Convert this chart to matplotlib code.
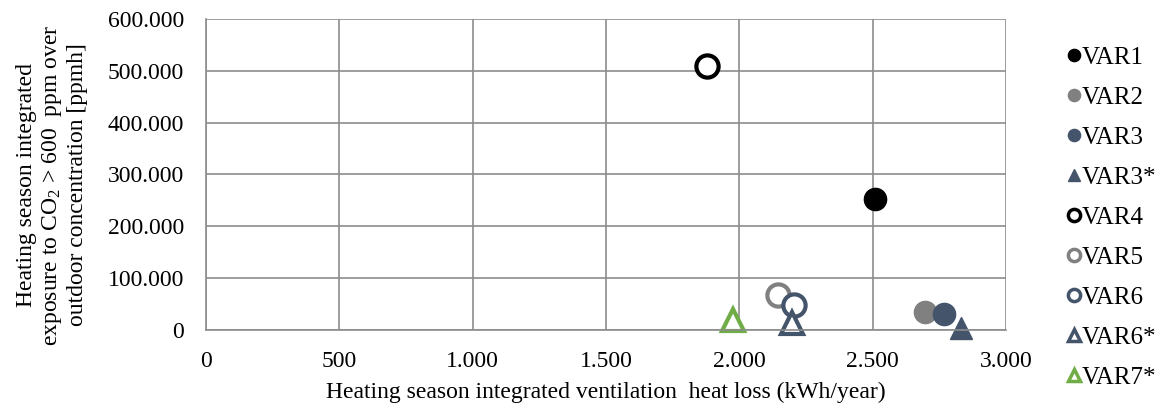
import numpy as np
import matplotlib.pyplot as plt
from matplotlib.ticker import FuncFormatter, MultipleLocator

plt.rcParams['font.family'] = ['Liberation Serif', 'DejaVu Serif']
plt.rcParams['mathtext.fontset'] = 'custom'
plt.rcParams['mathtext.rm'] = 'Liberation Serif'
plt.rcParams['mathtext.it'] = 'Liberation Serif:italic'

# data
labels = ["VAR1", "VAR2", "VAR3", "VAR3*", "VAR4", "VAR5", "VAR6", "VAR6*", "VAR7*"]
heat_loss = [2510, 2694, 2767, 2830, 1877, 2146, 2206, 2199, 1975]        # kWh/year
exposure = [252000, 35000, 31000, 4000, 510000, 67000, 49000, 13000, 20000]  # ppmh

colors = ["black", "#808080", "#44546A", "#44546A", "black", "#808080", "#44546A", "#44546A", "#70AD47"]
markers = ["o", "o", "o", "^", "o", "o", "o", "^", "^"]
filled = [True, True, True, True, False, False, False, False, False]

fig = plt.figure(figsize=(11.74, 4.12), dpi=100)
ax = fig.add_axes([0.1755, 0.199, 0.6815, 0.755])

for i in range(len(labels)):
    fc = colors[i] if filled[i] else "white"
    ax.plot(heat_loss[i], exposure[i], linestyle="none", marker=markers[i],
            markersize=16, markerfacecolor=fc, markeredgecolor=colors[i],
            markeredgewidth=3 if not filled[i] else 1, label=labels[i], clip_on=False)

ax.set_xlim(0, 3000)
ax.set_ylim(0, 600000)
ax.xaxis.set_major_locator(MultipleLocator(500))
ax.yaxis.set_major_locator(MultipleLocator(100000))
fmt = FuncFormatter(lambda v, p: "{:,.0f}".format(v).replace(",", "."))
ax.xaxis.set_major_formatter(fmt)
ax.yaxis.set_major_formatter(fmt)
ax.tick_params(labelsize=17, length=0, colors="black")
ax.tick_params(axis="x", pad=15)
ax.tick_params(axis="y", pad=16)

ax.grid(True, color="#8c8c8c", linewidth=1.2)
ax.set_axisbelow(True)
for s in ["top", "right"]:
    ax.spines[s].set_visible(False)
for s in ["left", "bottom"]:
    ax.spines[s].set_color("#8c8c8c")
    ax.spines[s].set_linewidth(1.2)

ax.set_xlabel("Heating season integrated ventilation  heat loss (kWh/year)", fontsize=17)
ax.xaxis.set_label_coords(0.5, -0.199)
ax.xaxis.label.set_va("center")
ax.set_ylabel("Heating season integrated\nexposure to CO$_2$ > 600  ppm over\noutdoor concentration [ppmh]",
              fontsize=17, linespacing=1.2)
ax.yaxis.set_label_coords(-0.1925, 0.466)
ax.yaxis.label.set_va("center")

leg = fig.legend(loc="upper left", bbox_to_anchor=(0.9084, 0.888), frameon=False, fontsize=18,
                 markerscale=0.55, handlelength=0.6, handletextpad=0.03, labelspacing=0.70,
                 borderaxespad=0, borderpad=0)
for h in leg.legend_handles:
    if h.get_markerfacecolor() == "white":
        h.set_markeredgewidth(2.5)

fig.savefig("out.png", dpi=100)
